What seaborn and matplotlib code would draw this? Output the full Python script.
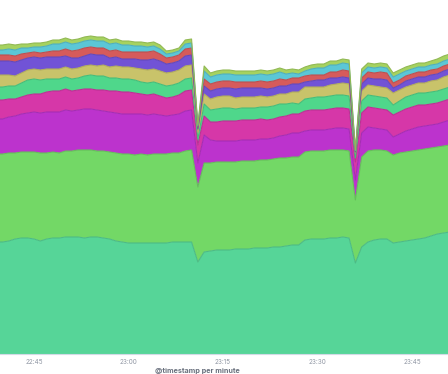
import numpy as np
import pandas as pd
import seaborn as sns
import matplotlib.pyplot as plt
import matplotlib.dates as mdates
from matplotlib.colors import to_rgb

# ---------------------------------------------------------
# data: counts per minute, stacked bottom -> top
# ---------------------------------------------------------
minutes = pd.date_range("2024-01-01 22:39", periods=73, freq="min")

teal = [112, 112, 113, 115, 116, 116, 115, 113, 115, 116, 116,
        117, 117, 117, 116, 117, 117, 116, 115, 113, 112,
        111, 111, 111, 111, 111, 111, 111, 112, 112, 112,
        112, 92, 102, 103, 104, 104, 104, 105, 105, 105,
        106, 106, 106, 107, 107, 108, 109, 109, 114, 115,
        115, 115, 116, 116, 117, 116, 91, 107, 112, 114,
        115, 115, 111, 112, 113, 114, 115, 116, 118, 120,
        121, 122]
lgreen = [88, 88, 88, 86, 86, 86, 87, 88, 86, 86, 85,
          86, 86, 87, 88, 87, 86, 87, 87, 88, 88,
          89, 88, 89, 88, 89, 89, 89, 89, 89, 91,
          92, 75, 89, 88, 88, 88, 88, 87, 88, 88,
          87, 88, 88, 88, 89, 88, 88, 88, 88, 88,
          88, 88, 88, 88, 87, 87, 63, 90, 91, 90,
          89, 88, 88, 89, 89, 89, 89, 89, 88, 87,
          87, 87]
violet = [35, 35, 36, 37, 38, 39, 40, 40, 41, 40, 41,
          41, 40, 40, 41, 41, 41, 40, 40, 40, 40,
          40, 41, 40, 40, 40, 39, 38, 38, 39, 40,
          40, 24, 28, 23, 21, 21, 21, 21, 21, 21,
          21, 21, 21, 21, 22, 23, 24, 24, 21, 21,
          21, 21, 21, 22, 22, 22, 20, 24, 24, 22,
          21, 21, 18, 19, 21, 22, 23, 23, 23, 23,
          24, 25]
pink = [19, 19, 18, 17, 17, 18, 18, 19, 20, 21, 21,
        21, 20, 20, 20, 20, 20, 21, 21, 22, 22,
        22, 21, 20, 20, 20, 19, 18, 18, 19, 20,
        20, 18, 19, 18, 19, 20, 20, 20, 20, 20,
        20, 20, 19, 19, 19, 19, 19, 19, 20, 20,
        20, 20, 20, 20, 20, 20, 18, 20, 20, 20,
        20, 20, 22, 22, 22, 22, 22, 21, 21, 21,
        21, 21]
green = [13, 13, 13, 13, 14, 15, 15, 14, 13, 12, 12,
         12, 12, 12, 13, 14, 14, 14, 13, 13, 13,
         13, 13, 12, 12, 12, 12, 12, 12, 12, 12,
         12, 6, 12, 12, 13, 13, 13, 12, 12, 12,
         12, 12, 13, 13, 13, 12, 11, 10, 12, 12,
         13, 13, 13, 13, 13, 13, 4, 12, 12, 12,
         12, 12, 10, 11, 12, 12, 12, 12, 12, 12,
         12, 12]
khaki = [12, 12, 11, 10, 10, 10, 10, 10, 10, 10, 10,
         10, 10, 10, 10, 10, 10, 11, 11, 12, 12,
         12, 12, 13, 13, 13, 13, 13, 13, 13, 13,
         13, 7, 10, 11, 12, 12, 12, 11, 11, 11,
         11, 11, 10, 10, 10, 10, 11, 12, 12, 11,
         10, 10, 11, 11, 12, 12, 5, 10, 10, 10,
         10, 10, 12, 11, 10, 10, 10, 10, 11, 11,
         12, 12]
indigo = [14, 14, 14, 14, 13, 12, 12, 12, 12, 12, 12,
          11, 11, 10, 10, 11, 11, 10, 9, 9, 8,
          8, 9, 9, 10, 10, 10, 9, 9, 9, 10,
          10, 3, 8, 8, 8, 8, 8, 9, 9, 9,
          9, 8, 8, 8, 8, 8, 8, 8, 5, 6,
          7, 7, 7, 6, 6, 6, 1, 7, 7, 7,
          8, 8, 5, 5, 6, 6, 6, 6, 6, 6,
          6, 6]
red = [6, 6, 6, 6, 6, 5, 5, 5, 5, 6, 6,
       7, 7, 8, 8, 7, 7, 7, 7, 7, 7,
       7, 7, 8, 8, 8, 7, 6, 6, 6, 7,
       7, 2, 7, 7, 7, 7, 7, 7, 6, 6,
       6, 7, 7, 7, 7, 6, 6, 6, 6, 6,
       5, 5, 6, 6, 7, 7, 1, 6, 6, 6,
       7, 7, 5, 5, 5, 5, 5, 5, 5, 5,
       5, 5]
cyan = [5, 5, 6, 6, 6, 5, 5, 6, 6, 7, 7,
        7, 7, 7, 7, 7, 7, 7, 7, 7, 7,
        7, 6, 6, 5, 5, 5, 4, 4, 4, 5,
        5, 1, 8, 7, 7, 7, 7, 7, 7, 7,
        7, 7, 7, 7, 7, 6, 5, 4, 5, 6,
        7, 7, 7, 7, 7, 7, 0.5, 5, 5, 5,
        5, 5, 6, 6, 5, 5, 5, 5, 5, 5,
        5, 5]
lime = [5, 5, 5, 5, 4, 4, 4, 4, 4, 4, 4,
        4, 4, 4, 4, 4, 4, 4, 4, 4, 4,
        4, 4, 4, 4, 4, 4, 3, 3, 3, 4,
        4, 1, 5, 4, 4, 4, 4, 4, 4, 4,
        4, 4, 4, 4, 4, 4, 4, 4, 4, 4,
        4, 4, 4, 4, 4, 4, 0.5, 4, 4, 4,
        4, 4, 4, 4, 4, 4, 4, 4, 4, 5,
        5, 5]

series = [teal, lgreen, violet, pink, green, khaki, indigo, red, cyan, lime]
colors = ["#56d598", "#73d866", "#bc33cd", "#d637a8", "#4fd78b",
          "#c9c36a", "#7153d6", "#d65b5b", "#5bc7d6", "#a6d25f"]

# ---------------------------------------------------------
# plot
# ---------------------------------------------------------
sns.set_theme(style="white")
plt.rcParams["font.family"] = ["Inter", "DejaVu Sans"]

fig = plt.figure(figsize=(4.48, 3.74), dpi=100)
ax = fig.add_axes([0, 20 / 374, 1, 354 / 374])

ax.stackplot(minutes, series, colors=colors, linewidth=0)

# darker top edge on each band
tops = np.cumsum(np.array(series, dtype=float), axis=0)
for top, c in zip(tops, colors):
    edge = tuple(v * 0.88 for v in to_rgb(c))
    sns.lineplot(x=minutes, y=top, color=edge, linewidth=0.8, ax=ax, legend=False)

start = pd.Timestamp("2024-01-01 22:39:36")
ax.set_xlim(start, start + pd.Timedelta(seconds=4266))
ax.set_ylim(0, 354)
ax.set_yticks([])
ax.set_xlabel("")
ax.set_ylabel("")

ax.xaxis.set_major_locator(mdates.MinuteLocator(byminute=[0, 15, 30, 45]))
ax.xaxis.set_major_formatter(mdates.DateFormatter("%H:%M"))
ax.tick_params(axis="x", length=0, pad=3.8, labelsize=4.6, labelcolor="#8f96a3")

for s in ["top", "left", "right"]:
    ax.spines[s].set_visible(False)
ax.spines["bottom"].set_color("#d3dae6")
ax.spines["bottom"].set_linewidth(0.8)

fig.text(197 / 448, (374 - 368.5) / 374, "@timestamp per minute", ha="center", va="top",
         fontsize=5.2, fontweight="bold", color="#69707d")

fig.savefig("out.png", dpi=100)
